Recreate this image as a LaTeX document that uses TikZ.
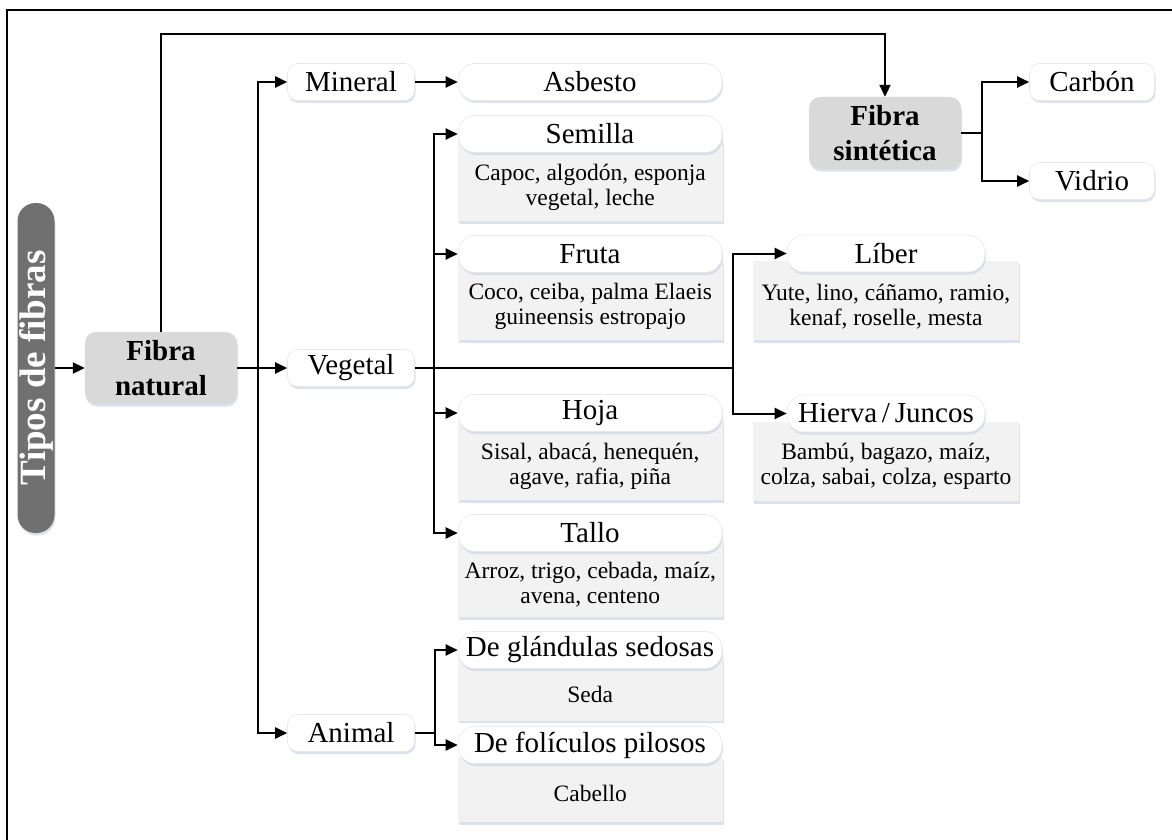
\documentclass[tikz,border=0pt]{standalone}
\usepackage{fontspec}
\setmainfont{Liberation Serif}
\usetikzlibrary{arrows.meta}
\usetikzlibrary{shadows}
\usetikzlibrary{calc}
\definecolor{pillgray}{RGB}{112,112,112}
\definecolor{boxgray}{RGB}{217,217,217}
\definecolor{detgray}{RGB}{242,242,242}
\definecolor{shadowblue}{RGB}{205,214,228}
\tikzset{soft shadow/.style={drop shadow={shadow xshift=1pt,shadow yshift=-2.5pt,fill=shadowblue,opacity=0.7}}}
\tikzset{title box/.style={rectangle,rounded corners=18pt,fill=pillgray,text=white,rotate=90,minimum width=330pt,minimum height=37pt,inner sep=0pt,font=\fontsize{37}{40}\selectfont\bfseries,soft shadow}}
\tikzset{main box/.style={rectangle,rounded corners=11pt,fill=boxgray,align=center,minimum width=152pt,minimum height=72pt,inner sep=0pt,font=\fontsize{29}{35}\selectfont\bfseries,soft shadow}}
\tikzset{cat box/.style={rectangle,rounded corners=10pt,fill=white,draw=gray!18,line width=0.6pt,minimum height=37pt,inner sep=0pt,font=\fontsize{29}{33}\selectfont,soft shadow}}
\tikzset{head box/.style={cat box,rounded corners=17pt}}
\tikzset{detail box/.style={rectangle,fill=detgray,inner sep=0pt,soft shadow}}
\tikzset{detail text/.style={align=center,inner sep=0pt,font=\fontsize{23.5}{25}\selectfont}}
\tikzset{arr/.style={line width=2pt,-{Triangle[length=12pt,width=11pt]}}}
\tikzset{conn/.style={line width=2pt}}

\begin{document}
\begin{tikzpicture}[x=1pt,y=-1pt]
          \useasboundingbox (0,0) rectangle (1172,840);

          %marco
          \draw[line width=2.5pt] (1172,10) -- (7,10) -- (7,840);

          %tipos, natural, sintetica
          \node[title box] (tipos) at (36,368) {Tipos de fibras};
          \node[main box] (natural) at (161,368) {Fibra\\natural};
          \node[main box] (sintetica) at (885,133) {Fibra\\sintética};

          %mineral, vegetal, animal
          \node[cat box, minimum width=127pt] (mineral) at (351,82) {Mineral};
          \node[cat box, minimum width=127pt] (vegetal) at (351,368) {Vegetal};
          \node[cat box, minimum width=127pt] (animal) at (351,733) {Animal};
          \node[head box, minimum width=264pt] (asbesto) at (590,82) {Asbesto};

          %carbon, vidrio
          \node[cat box, minimum width=125pt] (carbon) at (1092,82) {Carbón};
          \node[cat box, minimum width=125pt] (vidrio) at (1092,181) {Vidrio};

          %cajas grises
          \node[detail box, minimum width=265pt, minimum height=81pt] (semillad) at (590.5,180.5) {};
          \node[detail box, minimum width=265pt, minimum height=80pt] (frutad) at (590.5,300) {};
          \node[detail box, minimum width=265pt, minimum height=81pt] (hojad) at (590.5,459.5) {};
          \node[detail box, minimum width=265pt, minimum height=77pt] (tallod) at (590.5,578.5) {};
          \node[detail box, minimum width=265pt, minimum height=65pt] (glandulasd) at (590.5,688) {};
          \node[detail box, minimum width=265pt, minimum height=64pt] (foliculosd) at (590.5,790) {};
          \node[detail box, minimum width=266pt, minimum height=79pt] (liberd) at (886,300.5) {};
          \node[detail box, minimum width=266pt, minimum height=79pt] (hiervad) at (886,461.5) {};

          %encabezados
          \node[head box, minimum width=264pt] (semilla) at (590,134) {Semilla};
          \node[head box, minimum width=264pt] (fruta) at (590,254) {Fruta};
          \node[head box, minimum width=264pt] (hoja) at (590,413) {Hoja};
          \node[head box, minimum width=264pt] (tallo) at (590,533) {Tallo};
          \node[head box, minimum width=264pt] (glandulas) at (590,650) {De glándulas sedosas};
          \node[head box, minimum width=264pt] (foliculos) at (590,745) {De folículos pilosos};
          \node[head box, minimum width=198pt] (liber) at (886,253.5) {Líber};
          \node[head box, minimum width=198pt] (hierva) at (886,413.5) {Hierva\,/\,Juncos};

          %textos
          \node[detail text] (semillat) at ($(semilla.south)!.5!(semillad.south)$) {Capoc, algodón, esponja\\vegetal, leche};
          \node[detail text] (frutat) at ($(fruta.south)!.5!(frutad.south)$) {Coco, ceiba, palma Elaeis\\guineensis estropajo};
          \node[detail text] (hojat) at ($(hoja.south)!.5!(hojad.south)$) {Sisal, abacá, henequén,\\agave, rafia, piña};
          \node[detail text] (tallot) at ($(tallo.south)!.5!(tallod.south)$) {Arroz, trigo, cebada, maíz,\\avena, centeno};
          \node[detail text] (glandulast) at ($(glandulas.south)!.5!(glandulasd.south)$) {Seda};
          \node[detail text] (foliculost) at ($(foliculos.south)!.5!(foliculosd.south)$) {Cabello};
          \node[detail text] (libert) at ($(liber.south)!.5!(liberd.south)$) {Yute, lino, cáñamo, ramio,\\kenaf, roselle, mesta};
          \node[detail text] (hiervat) at ($(hierva.south)!.5!(hiervad.south)$) {Bambú, bagazo, maíz,\\colza, sabai, colza, esparto};

          %puntos de ramificacion
          \coordinate (arriba) at (885,34);
          \coordinate (rama1) at (258,368);
          \coordinate (rama2) at (434,368);
          \coordinate (rama3) at (733,368);
          \coordinate (rama4) at (435,733);
          \coordinate (rama5) at (982,133);

          %tipos->natural->sintetica
          \draw[arr] (tipos) -- (natural);
          \draw[arr] (natural.north) |- (arriba) -- (sintetica.north);

          %natural->mineral, vegetal, animal
          \draw[arr] (natural) -- (vegetal);
          \draw[arr] (rama1) |- (mineral);
          \draw[arr] (rama1) |- (animal);
          \draw[arr] (mineral) -- (asbesto);

          %vegetal->...
          \draw[conn] (vegetal) -- (rama3);
          \draw[arr] (rama2) |- (semilla);
          \draw[arr] (rama2) |- (fruta);
          \draw[arr] (rama2) |- (hoja);
          \draw[arr] (rama2) |- (tallo);
          \draw[arr] (rama3) |- (liber);
          \draw[arr] (rama3) |- (hierva);

          %animal->...
          \draw[conn] (animal) -- (rama4);
          \draw[arr] (rama4) |- (glandulas);
          \draw[arr] (rama4) |- (foliculos);

          %sintetica->carbon, vidrio
          \draw[conn] (sintetica) -- (rama5);
          \draw[arr] (rama5) |- (carbon);
          \draw[arr] (rama5) |- (vidrio);

        \end{tikzpicture}
\end{document}
